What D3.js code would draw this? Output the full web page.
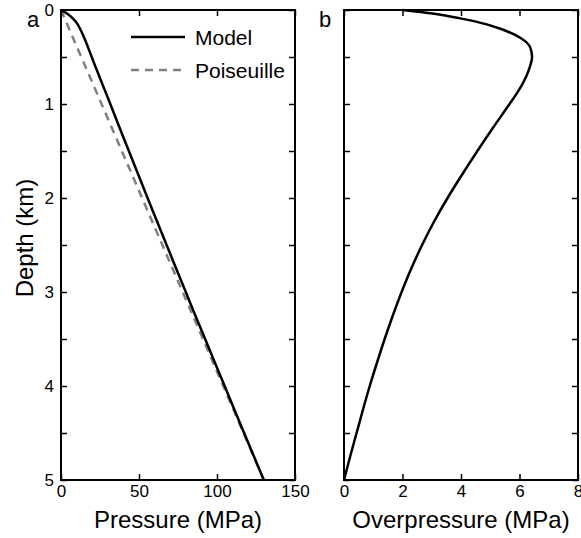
<!DOCTYPE html>
<html>
<head>
<meta charset="utf-8">
<script src="https://cdn.jsdelivr.net/npm/d3@7"></script>
<style>
  body { margin: 0; background: #fff; }
  text { font-family: "Liberation Sans", Arial, Helvetica, sans-serif; fill: #000; }
</style>
</head>
<body>
<div id="chart"></div>
<script>
// values
var depth_km = [0, 0.05, 0.1, 0.15, 0.2, 0.3, 0.4, 0.5, 0.6, 0.7, 0.8, 0.9, 1.0,
  1.25, 1.5, 1.75, 2.0, 2.25, 2.5, 2.75, 3.0, 3.25, 3.5, 3.75, 4.0, 4.25, 4.5, 4.75, 5.0];
var model_mpa = [0, 4.9, 8.2, 10.6, 12.2, 15.0, 17.4, 19.7, 22.0, 24.4, 26.8, 29.2, 31.6,
  37.5, 43.5, 49.5, 55.5, 61.6, 67.7, 73.8, 80.0, 86.1, 92.4, 98.6, 104.9, 111.1, 117.4, 123.7, 130];
var overpressure_mpa = [2.0, 3.3, 4.15, 4.85, 5.35, 6.05, 6.37, 6.43, 6.36, 6.24, 6.08, 5.88, 5.66,
  5.10, 4.56, 4.04, 3.54, 3.08, 2.67, 2.30, 1.97, 1.67, 1.39, 1.13, 0.88, 0.65, 0.43, 0.21, 0];
var poiseuille_depth_km = [0, 5];
var poiseuille_mpa = [0, 130];

var depth_ticks = [0, 0.5, 1, 1.5, 2, 2.5, 3, 3.5, 4, 4.5, 5];
var depth_labels = ["0", "", "1", "", "2", "", "3", "", "4", "", "5"];
var pressure_ticks = [0, 50, 100, 150];
var overpressure_ticks = [0, 2, 4, 6, 8];

var width = 581, height = 538;
var plotTop = 10, plotBottom = 480;
var panelA = { left: 61, right: 295 };
var panelB = { left: 344, right: 578 };

var svg = d3.select("#chart").append("svg")
  .attr("width", width)
  .attr("height", height);

var yScale = d3.scaleLinear().domain([0, 5]).range([plotTop, plotBottom]);
var xScaleA = d3.scaleLinear().domain([0, 150]).range([panelA.left, panelA.right]);
var xScaleB = d3.scaleLinear().domain([0, 8]).range([panelB.left, panelB.right]);

function drawFrame(xScale, xTicks, showYLabels) {
  var g = svg.append("g");
  var left = xScale.range()[0], right = xScale.range()[1];

  var yLeft = d3.axisLeft(yScale).tickValues(depth_ticks)
    .tickSizeInner(-6).tickSizeOuter(0).tickPadding(7)
    .tickFormat(function (d, i) { return showYLabels ? depth_labels[i] : ""; });
  var yRight = d3.axisRight(yScale).tickValues(depth_ticks)
    .tickSizeInner(-6).tickSizeOuter(0).tickFormat("");
  var xBottom = d3.axisBottom(xScale).tickValues(xTicks)
    .tickSizeInner(-6).tickSizeOuter(0).tickPadding(5)
    .tickFormat(d3.format("d"));
  var xTop = d3.axisTop(xScale).tickValues(xTicks)
    .tickSizeInner(-6).tickSizeOuter(0).tickFormat("");

  g.append("g").attr("transform", `translate(${left},0)`).call(yLeft);
  g.append("g").attr("transform", `translate(${right},0)`).call(yRight);
  g.append("g").attr("transform", `translate(0,${plotBottom})`).call(xBottom);
  g.append("g").attr("transform", `translate(0,${plotTop})`).call(xTop);

  g.selectAll(".domain").remove();
  g.selectAll(".tick line").attr("stroke", "#000").attr("stroke-width", 1.5);
  g.selectAll(".tick text")
    .attr("font-size", "17px")
    .attr("font-family", "'Liberation Sans', Arial, sans-serif")
    .attr("fill", "#000");

  g.append("rect")
    .attr("x", left)
    .attr("y", plotTop)
    .attr("width", right - left)
    .attr("height", plotBottom - plotTop)
    .attr("fill", "none")
    .attr("stroke", "#000")
    .attr("stroke-width", 2);
}

// panel a: pressure profiles
var lineA = d3.line()
  .x(function (d) { return xScaleA(d[1]); })
  .y(function (d) { return yScale(d[0]); })
  .curve(d3.curveMonotoneY);

svg.append("path")
  .datum(d3.zip(poiseuille_depth_km, poiseuille_mpa))
  .attr("d", lineA)
  .attr("fill", "none")
  .attr("stroke", "#808080")
  .attr("stroke-width", 2.5)
  .attr("stroke-dasharray", "8,6");

svg.append("path")
  .datum(d3.zip(depth_km, model_mpa))
  .attr("d", lineA)
  .attr("fill", "none")
  .attr("stroke", "#000")
  .attr("stroke-width", 2.5);

// panel b: overpressure
var lineB = d3.line()
  .x(function (d) { return xScaleB(d[1]); })
  .y(function (d) { return yScale(d[0]); })
  .curve(d3.curveMonotoneY);

svg.append("path")
  .datum(d3.zip(depth_km, overpressure_mpa))
  .attr("d", lineB)
  .attr("fill", "none")
  .attr("stroke", "#000")
  .attr("stroke-width", 2.5);

drawFrame(xScaleA, pressure_ticks, true);
drawFrame(xScaleB, overpressure_ticks, false);

// legend
var legend = svg.append("g");
legend.append("line")
  .attr("x1", 131).attr("x2", 185).attr("y1", 37).attr("y2", 37)
  .attr("stroke", "#000").attr("stroke-width", 2.5);
legend.append("text").attr("x", 195).attr("y", 44.5)
  .attr("font-size", "21px").text("Model");
legend.append("line")
  .attr("x1", 131).attr("x2", 185).attr("y1", 70).attr("y2", 70)
  .attr("stroke", "#808080").attr("stroke-width", 2.5)
  .attr("stroke-dasharray", "8,6");
legend.append("text").attr("x", 195).attr("y", 77.5)
  .attr("font-size", "21px").text("Poiseuille");

// panel letters and axis titles
svg.append("text").attr("x", 27).attr("y", 26.5)
  .attr("font-size", "22px").text("a");
svg.append("text").attr("x", 319).attr("y", 26.5)
  .attr("font-size", "22px").text("b");

svg.append("text")
  .attr("x", (panelA.left + panelA.right) / 2)
  .attr("y", 528)
  .attr("text-anchor", "middle")
  .attr("font-size", "24px")
  .text("Pressure (MPa)");

svg.append("text")
  .attr("x", (panelB.left + panelB.right) / 2)
  .attr("y", 528)
  .attr("text-anchor", "middle")
  .attr("font-size", "24px")
  .text("Overpressure (MPa)");

svg.append("text")
  .attr("transform", "translate(33,238) rotate(-90)")
  .attr("text-anchor", "middle")
  .attr("font-size", "24px")
  .text("Depth (km)");
</script>
</body>
</html>
